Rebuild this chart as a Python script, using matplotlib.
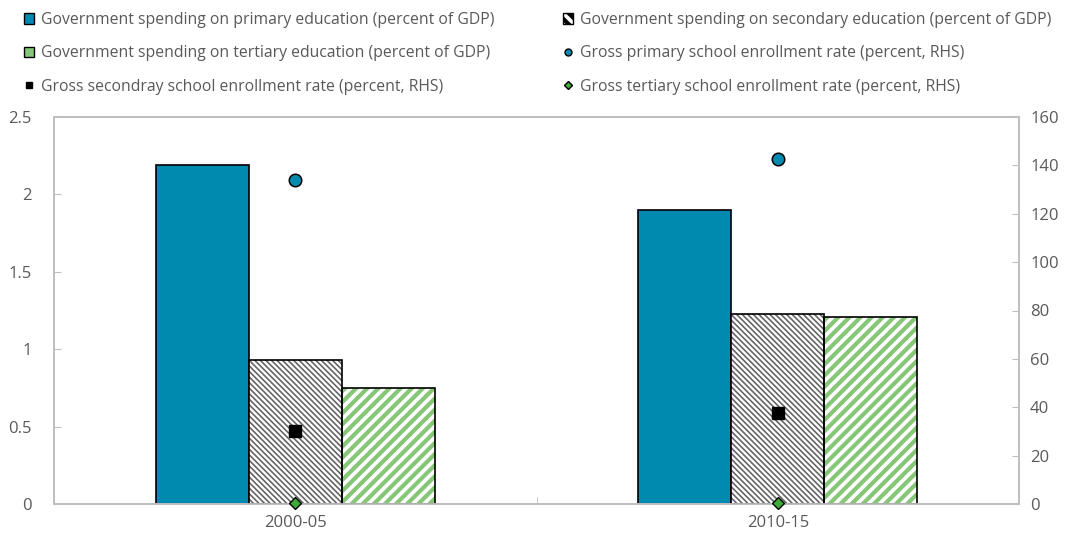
import numpy as np
import matplotlib.pyplot as plt
import matplotlib as mpl
from matplotlib.patches import Patch
from matplotlib.lines import Line2D

plt.rcParams['font.family'] = ['Open Sans', 'DejaVu Sans']

periods = ['2000-05', '2010-15']
spend_primary = [2.19, 1.90]
spend_secondary = [0.93, 1.23]
spend_tertiary = [0.75, 1.21]
enrol_primary = [134, 142.5]
enrol_secondary = [30, 37.5]
enrol_tertiary = [0.5, 0.5]

labels = [
    'Government spending on primary education (percent of GDP)',
    'Government spending on secondary education (percent of GDP)',
    'Government spending on tertiary education (percent of GDP)',
    'Gross primary school enrollment rate (percent, RHS)',
    'Gross secondray school enrollment rate (percent, RHS)',
    'Gross tertiary school enrollment rate (percent, RHS)',
]

teal = '#008AB0'
green = '#86C677'
grey_txt = '#595959'
spine_c = '#BFBFBF'

fig = plt.figure(figsize=(10.76, 5.46), dpi=100)
ax = fig.add_axes([54/1076, 1-504/546, (1019-54)/1076, (504-117)/546])
ax2 = ax.twinx()

x = np.arange(len(periods))
w = 0.193

ax.bar(x - w, spend_primary, w, color=teal, edgecolor='black', linewidth=1.2, zorder=2)

# hatched bars: hatch layer first, then outline on top
mpl.rcParams['hatch.linewidth'] = 1.2
ax.bar(x, spend_secondary, w, color='white', edgecolor='#666666', hatch='\\\\\\\\\\\\',
       linewidth=0, zorder=2)
ax.bar(x, spend_secondary, w, fill=False, edgecolor='black', linewidth=1.2, zorder=3)
mpl.rcParams['hatch.linewidth'] = 3.0
ax.bar(x + w, spend_tertiary, w, color='white', edgecolor=green, hatch='///',
       linewidth=0, zorder=2)
ax.bar(x + w, spend_tertiary, w, fill=False, edgecolor='black', linewidth=1.2, zorder=3)

ax2.plot(x, enrol_primary, 'o', ms=9, mfc=teal, mec='black', mew=1.1, ls='none', zorder=5)
ax2.plot(x, enrol_secondary, 's', ms=9, mfc='black', mec='black', ls='none', zorder=5)
ax2.plot(x, enrol_tertiary, 'D', ms=6.5, mfc='#3FAA3A', mec='black', mew=1, ls='none',
         zorder=5, clip_on=False)

ax.set_xlim(-0.5, 1.5)
ax.set_ylim(0, 2.5)
ax2.set_ylim(0, 160)
ax.set_yticks([0, 0.5, 1, 1.5, 2, 2.5])
ax.set_yticklabels(['0', '0.5', '1', '1.5', '2', '2.5'])
ax2.set_yticks(np.arange(0, 161, 20))

ax.set_xticks(x)
ax.set_xticklabels(periods)
ax.set_xticks([0.5], minor=True)
ax.tick_params(axis='x', which='major', length=0, pad=8, labelsize=12, labelcolor=grey_txt)
ax.tick_params(axis='x', which='minor', length=5, direction='in', color=spine_c)
ax.tick_params(axis='y', direction='in', length=5, color=spine_c, labelsize=12,
               labelcolor=grey_txt, pad=16)
ax2.tick_params(axis='y', direction='in', length=5, color=spine_c, labelsize=12,
                labelcolor=grey_txt, pad=8)

for a in (ax, ax2):
    for s in a.spines.values():
        s.set_color(spine_c)
        s.set_linewidth(1.3)
ax.set_zorder(1)
ax2.set_zorder(2)

handles = [
    Patch(facecolor=teal, edgecolor='black'),
    Patch(facecolor='white', edgecolor='black', hatch='\\\\\\'),
    Patch(facecolor=green, edgecolor='black'),
    Line2D([], [], marker='o', ls='none', mfc=teal, mec='black', ms=5),
    Line2D([], [], marker='s', ls='none', mfc='black', mec='black', ms=5),
    Line2D([], [], marker='D', ls='none', mfc='#3FAA3A', mec='black', ms=4),
]
order = [0, 2, 4, 1, 3, 5]
leg = fig.legend([handles[i] for i in order], [labels[i] for i in order], ncol=2,
                 loc='upper left', bbox_to_anchor=(10/1076, 1 + 2/546), frameon=False,
                 fontsize=11.3, handlelength=0.65, handleheight=0.65, handletextpad=0.45,
                 labelspacing=1.1, columnspacing=4.35, labelcolor=grey_txt)

fig.savefig('out.png', dpi=100)
